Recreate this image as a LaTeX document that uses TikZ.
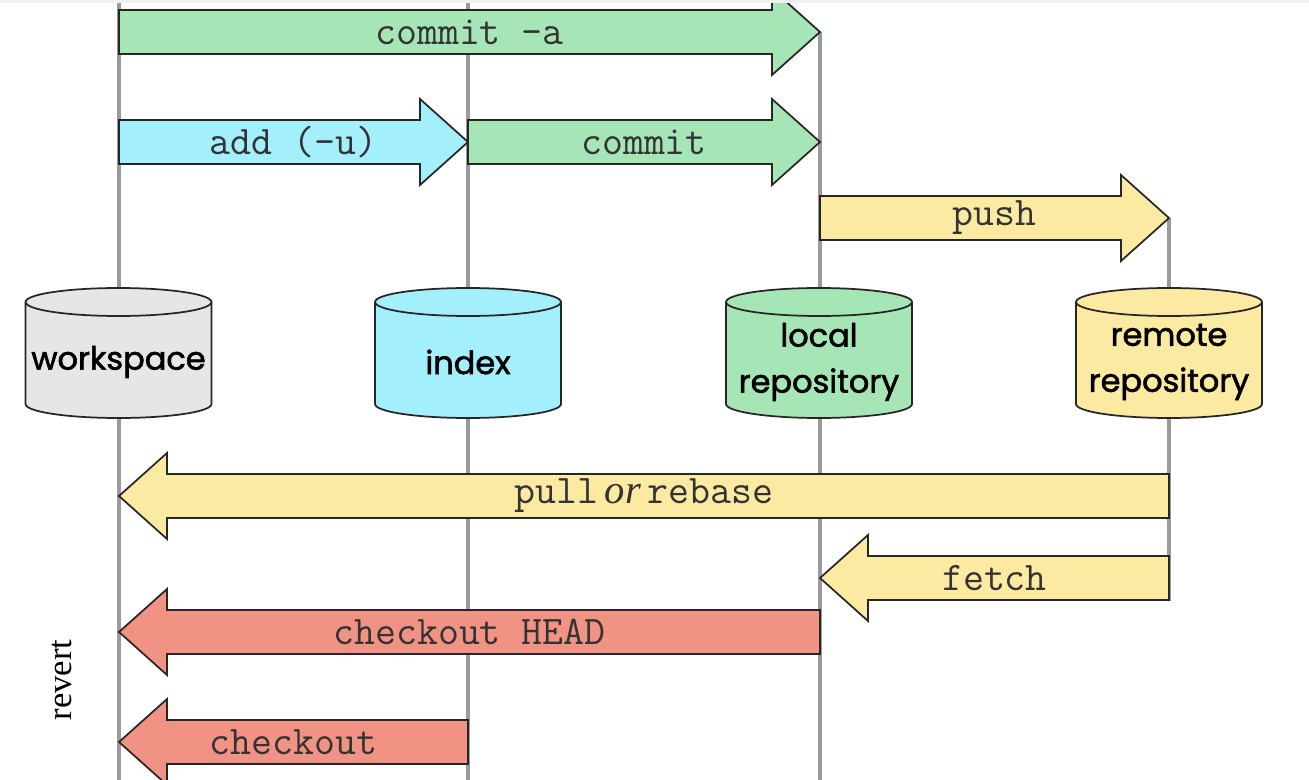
\documentclass[tikz,border=0pt]{standalone}
\usepackage{fontspec}
\setmainfont{Liberation Serif}
\newfontfamily\cylfont{Poppins}[FakeBold=1.8]
\definecolor{cgreen}{HTML}{A6E6B6}
\definecolor{ccyan}{HTML}{A3EFFC}
\definecolor{cyellow}{HTML}{FCEAA2}
\definecolor{cred}{HTML}{F19384}
\definecolor{cgray}{HTML}{E6E6E6}
\definecolor{cline}{HTML}{9A9A9A}
\tikzset{
  arrowbody/.style={draw=black!85, line width=1.3pt, line join=miter},
  vline/.style={draw=cline, line width=3pt},
  arrowlabel/.style={font=\ttfamily\fontsize{30.5}{34}\selectfont, text=black!80, inner sep=0pt},
  cyl/.style={draw=black!85, line width=1.3pt},
  cyllabel/.style={font=\cylfont\fontsize{24}{34.5}\selectfont, align=center, inner sep=0pt},
}
% right arrow: x1, x2 (tip), y, colour, name, text
\newcommand\rarrow[6]{%
  \path[arrowbody, fill=#4] (#1,#3-22) -- (#2-48,#3-22) -- (#2-48,#3-43) -- (#2,#3) -- (#2-48,#3+43) -- (#2-48,#3+22) -- (#1,#3+22) -- cycle;
  \node[arrowlabel] (#5) at ({(#1+#2)/2},#3) {#6};}
% left arrow: x1 (tip), x2, y, colour, name, text
\newcommand\larrow[6]{%
  \path[arrowbody, fill=#4] (#2,#3-22) -- (#1+48,#3-22) -- (#1+48,#3-43) -- (#1,#3) -- (#1+48,#3+43) -- (#1+48,#3+22) -- (#2,#3+22) -- cycle;
  \node[arrowlabel] (#5) at ({(#1+#2)/2},#3) {#6};}
% cylinder: centre x, colour, name, text
\newcommand\cylinder[4]{%
  \path[cyl, fill=#2] (#1-93,302) -- (#1-93,404) arc[start angle=180, end angle=360, x radius=93, y radius=-14] -- (#1+93,302) arc[start angle=0, end angle=-180, x radius=93, y radius=14] -- cycle;
  \draw[cyl] (#1-93,302) arc[start angle=180, end angle=360, x radius=93, y radius=-14];
  \node[cyllabel] (#3) at (#1,362) {#4};}
\begin{document}
\begin{tikzpicture}[x=0.75pt,y=-0.75pt]
\useasboundingbox (0,0) rectangle (1309,780);
\fill[white] (0,0) rectangle (1309,780);
% vertical lines
\coordinate (wt) at (119,0); \coordinate (wb) at (119,780);
\coordinate (it) at (468,0); \coordinate (ib) at (468,780);
\coordinate (lt) at (820,32); \coordinate (lb) at (820,780);
\coordinate (rt) at (1169,218); \coordinate (rb) at (1169,601);
\draw[vline] (wt) -- (wb);
\draw[vline] (it) -- (ib);
\draw[vline] (lt) -- (lb);
\draw[vline] (rt) -- (rb);
% arrows
\rarrow{119}{820}{32}{cgreen}{commita}{commit -a}
\rarrow{119}{468}{142}{ccyan}{add}{add (-u)}
\rarrow{468}{820}{142}{cgreen}{commit}{commit}
\rarrow{820}{1169}{218}{cyellow}{push}{push}
\larrow{119}{1169}{496}{cyellow}{pull}{pull\hspace{5pt}{\rmfamily\itshape or}\hspace{5pt}rebase}
\larrow{820}{1169}{578}{cyellow}{fetch}{fetch}
\larrow{119}{820}{632}{cred}{checkouthead}{checkout HEAD}
\larrow{119}{468}{742}{cred}{checkout}{checkout}
% top strip
\fill[black!6] (0,0) rectangle (1309,3);
% cylinders
\cylinder{118.5}{cgray}{workspace}{workspace}
\cylinder{468}{ccyan}{index}{index}
\cylinder{819}{cgreen}{local}{local\\repository}
\cylinder{1169}{cyellow}{remote}{remote\\repository}
% revert
\node[rotate=90, font=\rmfamily\fontsize{26}{30}\selectfont, inner sep=0pt] (revert) at (62,680) {revert};
\end{tikzpicture}
\end{document}
